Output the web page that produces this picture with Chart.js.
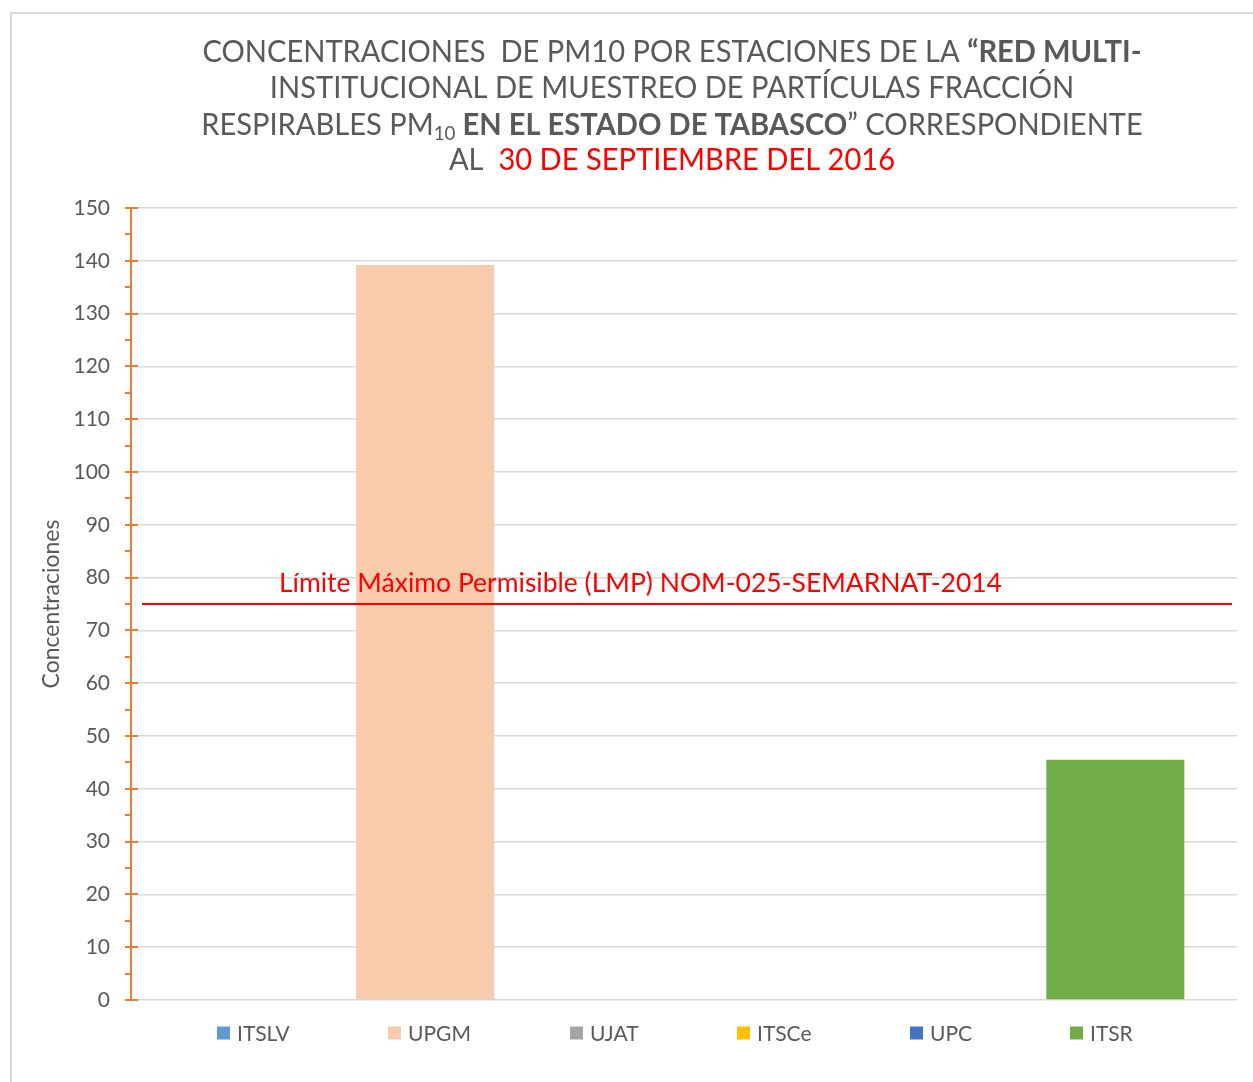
<!DOCTYPE html>
<html>
<head>
<meta charset="utf-8">
<script src="https://cdn.jsdelivr.net/npm/chart.js@4/dist/chart.umd.min.js"></script>
<style>
  html, body { margin: 0; padding: 0; background: #fff; }
  #wrap { position: relative; width: 1253px; height: 1082px; overflow: hidden; }
  #frame { position: absolute; left: 10px; top: 12px; width: 1260px; height: 1100px; border-left: 2px solid #d9d9d9; border-top: 2px solid #d9d9d9; box-sizing: border-box; pointer-events: none; }
  canvas { position: absolute; left: 0; top: 0; }
</style>
</head>
<body>
<div id="wrap">
  <canvas id="c" width="1253" height="1082"></canvas>
  <div id="frame"></div>
</div>
<script>
// ---- DATA ----
const stations = ['ITSLV', 'UPGM', 'UJAT', 'ITSCe', 'UPC', 'ITSR'];
const concentrations = [null, 139.2, null, null, null, 45.5];
const stationColors = ['#5B9BD5', '#F8CBAD', '#A5A5A5', '#FFC000', '#4472C4', '#70AD47'];
const limitValue = 75;
const limitLabel = 'Límite Máximo Permisible (LMP) NOM-025-SEMARNAT-2014';
const yTitle = 'Concentraciones';
const yMin = 0, yMax = 150, yStep = 10, yMinorStep = 5;
const titleLines = [
  [{t: 'CONCENTRACIONES  DE PM10 POR ESTACIONES DE LA '}, {t: '“RED MULTI-', b: true}],
  [{t: 'INSTITUCIONAL DE MUESTREO DE PARTÍCULAS FRACCIÓN'}],
  [{t: 'RESPIRABLES PM'}, {t: '10', sub: true}, {t: ' EN EL ESTADO DE TABASCO', b: true}, {t: '” CORRESPONDIENTE'}],
  [{t: 'AL  '}, {t: '30 DE SEPTIEMBRE DEL 2016', red: true}]
];

const FONT = 'Lato, "Open Sans", sans-serif';
const GRAY = '#595959';
const ORANGE = '#ED7D31';

const datasets = stations.map((s, i) => ({
  label: s,
  data: [concentrations[i]],
  backgroundColor: stationColors[i],
  borderWidth: 0,
  categoryPercentage: 0.936,
  barPercentage: 0.8
}));

const decorPlugin = {
  id: 'decor',
  afterDatasetsDraw(chart) {
    const ctx = chart.ctx;
    const y = chart.scales.y;
    const area = chart.chartArea;
    ctx.save();
    // axis line and ticks
    ctx.strokeStyle = ORANGE;
    ctx.lineWidth = 2;
    ctx.beginPath();
    ctx.moveTo(area.left, y.getPixelForValue(yMax) - 1);
    ctx.lineTo(area.left, y.getPixelForValue(yMin) + 1);
    ctx.stroke();
    for (let v = yMin; v <= yMax; v += yMinorStep) {
      const py = Math.round(y.getPixelForValue(v));
      const major = (v % yStep) === 0;
      ctx.beginPath();
      ctx.moveTo(area.left - 6, py);
      ctx.lineTo(area.left + (major ? 7 : 0), py);
      ctx.stroke();
    }
    // limit line
    const ly = y.getPixelForValue(limitValue);
    ctx.strokeStyle = '#FF0000';
    ctx.lineWidth = 2;
    ctx.beginPath();
    ctx.moveTo(area.left + 11, ly);
    ctx.lineTo(area.right - 5, ly);
    ctx.stroke();
    // limit label
    ctx.fillStyle = '#FF0000';
    let fs = 24;
    ctx.font = fs + 'px ' + FONT;
    const w = ctx.measureText(limitLabel).width;
    fs = fs * 723 / w;
    ctx.font = fs.toFixed(2) + 'px ' + FONT;
    ctx.textBaseline = 'alphabetic';
    ctx.textAlign = 'left';
    ctx.fillText(limitLabel, 279, ly - 12);

    // legend
    const lf = 21;
    ctx.font = lf + 'px ' + FONT;
    const box = 13, gapBT = 7, gapItems = 98.5;
    const widths = stations.map(s => box + gapBT + ctx.measureText(s).width);
    let x = 217;
    const cy = 1033;
    ctx.textBaseline = 'middle';
    stations.forEach((s, i) => {
      ctx.fillStyle = stationColors[i];
      ctx.fillRect(Math.round(x), cy - box / 2, box, box);
      ctx.fillStyle = GRAY;
      ctx.fillText(s, Math.round(x) + box + gapBT, cy + 1);
      x += widths[i] + gapItems;
    });

    // title
    const tfs = 31;
    const lineYs = [52, 88, 125, 160];
    const cx = 672;
    const fontFor = r => (r.b ? '700 ' : '400 ') + (r.sub ? Math.round(tfs * 0.66) : tfs) + 'px ' + FONT;
    const lineWidth = runs => runs.reduce((a, r) => { ctx.font = fontFor(r); return a + ctx.measureText(r.t).width; }, 0);
    const sx = 939 / lineWidth(titleLines[0]);
    ctx.textBaseline = 'middle';
    titleLines.forEach((runs, li) => {
      const lw = lineWidth(runs) * sx;
      ctx.save();
      ctx.translate(cx - lw / 2, lineYs[li]);
      ctx.scale(sx, 1);
      let xx = 0;
      runs.forEach(r => {
        ctx.font = fontFor(r);
        ctx.fillStyle = r.red ? '#FF0000' : GRAY;
        ctx.fillText(r.t, xx, r.sub ? 9 : 0);
        xx += ctx.measureText(r.t).width;
      });
      ctx.restore();
    });
    ctx.restore();
  }
};

new Chart(document.getElementById('c'), {
  type: 'bar',
  data: { labels: [''], datasets },
  options: {
    responsive: false,
    animation: false,
    layout: { padding: { top: 208, right: 16, bottom: 82, left: 0 } },
    plugins: { legend: { display: false }, tooltip: { enabled: false }, title: { display: false } },
    scales: {
      x: { display: false },
      y: {
        min: yMin, max: yMax,
        afterFit(scale) { scale.width = 131; },
        ticks: { stepSize: yStep, color: GRAY, font: { family: FONT, size: 21 }, padding: 21 },
        grid: { color: '#d9d9d9', lineWidth: 1.5, drawTicks: false },
        border: { display: false },
        title: { display: true, text: yTitle, color: GRAY, font: { family: FONT, size: 23 }, padding: { top: 38, bottom: 0 } }
      }
    }
  },
  plugins: [decorPlugin]
});
</script>
</body>
</html>
